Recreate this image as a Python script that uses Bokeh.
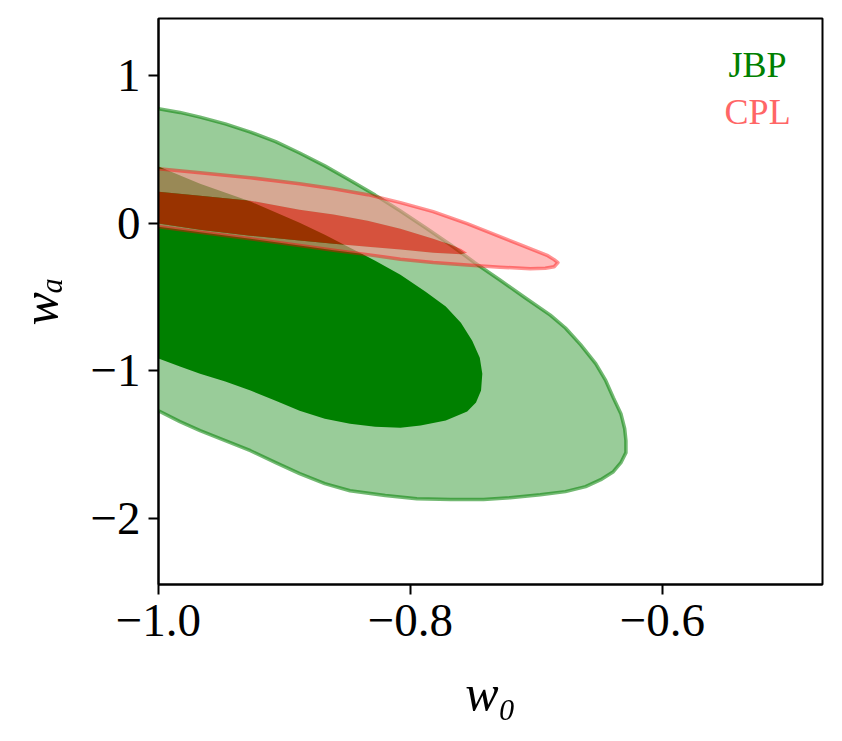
from bokeh.plotting import figure
from bokeh.models import Range1d, FixedTicker, CustomJSTickFormatter, Label
from bokeh.embed import file_html
from bokeh.resources import INLINE

# ---- data ----
# JBP 2-sigma (outer) contour
jbp_outer_w0 = [-1.0, -0.983, -0.967, -0.947, -0.927, -0.907, -0.888, -0.868, -0.848, -0.828,
                -0.808, -0.788, -0.768, -0.749, -0.729, -0.709, -0.689, -0.677, -0.665, -0.653,
                -0.645, -0.639, -0.633, -0.630, -0.629,
                -0.629, -0.633, -0.639, -0.649, -0.661, -0.677, -0.697, -0.721, -0.742, -0.768,
                -0.795, -0.820, -0.848, -0.868, -0.888, -0.907, -0.927, -0.947, -0.967, -0.983, -1.0]
jbp_outer_wa = [0.775, 0.750, 0.718, 0.672, 0.617, 0.552, 0.475, 0.388, 0.290, 0.190,
                0.082, -0.031, -0.148, -0.268, -0.385, -0.505, -0.623, -0.710, -0.823, -0.951,
                -1.067, -1.182, -1.290, -1.392, -1.473,
                -1.554, -1.622, -1.683, -1.737, -1.784, -1.818, -1.839, -1.859, -1.872, -1.872,
                -1.866, -1.845, -1.812, -1.764, -1.696, -1.622, -1.541, -1.473, -1.405, -1.344, -1.270]
# JBP 1-sigma (inner) contour
jbp_inner_w0 = [-1.0, -0.967, -0.927, -0.888, -0.868, -0.848, -0.828, -0.808, -0.788, -0.772,
                -0.760, -0.751, -0.745, -0.743, -0.744, -0.748, -0.755, -0.772, -0.792, -0.808,
                -0.828, -0.848, -0.868, -0.888, -0.907, -0.927, -0.947, -0.967, -0.983, -1.0]
jbp_inner_wa = [0.383, 0.267, 0.146, 0.003, -0.078, -0.166, -0.254, -0.349, -0.464, -0.565,
                -0.674, -0.796, -0.911, -1.019, -1.134, -1.215, -1.276, -1.337, -1.371, -1.385,
                -1.378, -1.358, -1.324, -1.270, -1.202, -1.134, -1.073, -1.019, -0.971, -0.917]
# CPL 2-sigma (outer) contour
cpl_outer_w0 = [-1.0, -0.967, -0.927, -0.888, -0.861, -0.834, -0.808, -0.782, -0.755, -0.729,
                -0.713, -0.701, -0.691, -0.686, -0.683,
                -0.686, -0.693, -0.705, -0.729, -0.755, -0.782, -0.808, -0.834, -0.861, -0.888,
                -0.927, -0.967, -1.0]
cpl_outer_wa = [0.369, 0.342, 0.308, 0.267, 0.233, 0.193, 0.139, 0.078, -0.003, -0.091,
                -0.146, -0.186, -0.220, -0.247, -0.267,
                -0.295, -0.305, -0.308, -0.298, -0.284, -0.267, -0.244, -0.213, -0.183, -0.152,
                -0.105, -0.061, -0.024]
# CPL 1-sigma (inner) contour
cpl_inner_w0 = [-1.0, -0.967, -0.927, -0.888, -0.861, -0.834, -0.808, -0.782, -0.768, -0.760, -0.755,
                -0.760, -0.782, -0.808, -0.834, -0.861, -0.888, -0.927, -0.967, -1.0]
cpl_inner_wa = [0.213, 0.186, 0.152, 0.091, 0.058, 0.017, -0.037, -0.105, -0.146, -0.173, -0.200,
                -0.210, -0.200, -0.179, -0.159, -0.139, -0.118, -0.085, -0.044, -0.003]

x_ticks = [-1.0, -0.8, -0.6]
x_tick_labels = ["\u22121.0", "\u22120.8", "\u22120.6"]
y_ticks = [-2, -1, 0, 1]
y_tick_labels = ["\u22122", "\u22121", "0", "1"]

series_names = ["JBP", "CPL"]

FONT = "Liberation Serif"

p = figure(width=834, height=733, x_range=Range1d(-1.0, -0.473), y_range=Range1d(-2.447, 1.386),
           output_backend="svg", toolbar_location=None,
           min_border_left=158, min_border_right=12, min_border_top=18, min_border_bottom=149)
p.grid.visible = False
p.outline_line_color = "black"
p.outline_line_width = 2
p.background_fill_color = "white"
p.border_fill_color = "white"

# JBP
p.patch(jbp_outer_w0, jbp_outer_wa, fill_color="#99cc99", fill_alpha=1.0, line_color=None)
p.patch(jbp_inner_w0, jbp_inner_wa, fill_color="#008000", fill_alpha=1.0, line_color=None)
p.line(jbp_outer_w0, jbp_outer_wa, line_color="#008000", line_alpha=0.55, line_width=3.5,
       line_join="round")

# CPL: outer ring (between the two contours) and the inner region
ring_w0 = cpl_outer_w0 + cpl_inner_w0[::-1]
ring_wa = cpl_outer_wa + cpl_inner_wa[::-1]
p.patch(ring_w0, ring_wa, fill_color="#ff8f8f", fill_alpha=0.6, line_color=None)
p.patch(cpl_inner_w0, cpl_inner_wa, fill_color="#ff0000", fill_alpha=0.6, line_color=None)
p.line(cpl_outer_w0, cpl_outer_wa, line_color="#ff0000", line_alpha=0.42, line_width=3.5,
       line_join="round")

# legend text
p.add_layout(Label(x=-0.5015, y=1.074, text=series_names[0], text_align="right",
                   text_baseline="alphabetic", text_color="#008000",
                   text_font=FONT, text_font_size="36px"))
p.add_layout(Label(x=-0.4983, y=0.755, text=series_names[1], text_align="right",
                   text_baseline="alphabetic", text_color="#ff6666",
                   text_font=FONT, text_font_size="36px"))

fmt_code = """
const i = tvals.findIndex(t => Math.abs(t - tick) < 1e-9);
return i >= 0 ? tlabels[i] : '';
"""
p.xaxis.ticker = FixedTicker(ticks=x_ticks)
p.xaxis.formatter = CustomJSTickFormatter(args=dict(tvals=x_ticks, tlabels=x_tick_labels), code=fmt_code)
p.yaxis.ticker = FixedTicker(ticks=y_ticks)
p.yaxis.formatter = CustomJSTickFormatter(args=dict(tvals=y_ticks, tlabels=y_tick_labels), code=fmt_code)

p.xaxis.axis_label = "w\u2080"
p.yaxis.axis_label = "w\u2090"

for ax in (p.xaxis[0], p.yaxis[0]):
    ax.major_tick_out = 10
    ax.major_tick_in = 0
    ax.minor_tick_out = 0
    ax.minor_tick_in = 0
    ax.major_tick_line_width = 2
    ax.axis_line_width = 2
    ax.major_label_text_font = FONT
    ax.major_label_text_font_size = "47px"
    ax.major_label_text_color = "black"
    ax.axis_label_text_font = FONT
    ax.axis_label_text_font_style = "italic"
    ax.axis_label_text_font_size = "50px"
    ax.axis_label_text_color = "black"

p.xaxis.major_label_standoff = 10
p.yaxis.major_label_standoff = 8
p.xaxis.axis_label_standoff = 26
p.yaxis.axis_label_standoff = 19

open("out.html", "w").write(file_html(p, INLINE))
